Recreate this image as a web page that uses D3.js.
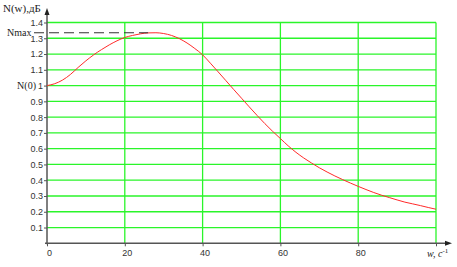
<!DOCTYPE html>
<html>
<head>
<meta charset="utf-8">
<script src="https://cdn.jsdelivr.net/npm/d3@7"></script>
<style>
    body { margin: 0; background: #fff; }
    .tick-label { font-family: "Liberation Sans", Arial, sans-serif; font-size: 9px; fill: #333; }
    .serif { font-family: "Liberation Serif", "Times New Roman", serif; fill: #222; }
</style>
</head>
<body>
<div id="container"></div>
<script>
// w, c^-1
const wValues = [0, 2, 4, 6, 8, 10, 12, 14, 16, 18, 20, 22, 24, 26, 28, 30, 32, 34, 36, 38, 40,
    42, 44, 46, 48, 50, 52, 54, 56, 58, 60, 62, 64, 66, 68, 70, 72, 74, 76, 78, 80,
    82, 84, 86, 88, 90, 92, 94, 96, 98, 100]
// N(w), dB
const nValues = [1.00, 1.012, 1.035, 1.07, 1.115, 1.157, 1.195, 1.228, 1.258, 1.284, 1.305, 1.318, 1.328, 1.334, 1.335, 1.33, 1.318, 1.298, 1.27, 1.235, 1.195,
    1.142, 1.087, 1.031, 0.975, 0.92, 0.865, 0.811, 0.759, 0.71, 0.664, 0.618, 0.577, 0.541, 0.509, 0.479, 0.452, 0.427, 0.404, 0.382, 0.361,
    0.341, 0.322, 0.305, 0.29, 0.275, 0.261, 0.25, 0.239, 0.227, 0.216]
const xTicks = [0, 20, 40, 60, 80, 100]
const xLabels = [0, 20, 40, 60, 80]
const yTicks = [0.1, 0.2, 0.3, 0.4, 0.5, 0.6, 0.7, 0.8, 0.9, 1, 1.1, 1.2, 1.3, 1.4]
const nMax = 1.335
const wMax = 26

const width = 457
const height = 267

const x = d3.scaleLinear().domain([0, 100]).range([47, 436])
const y = d3.scaleLinear().domain([0, 1.4]).range([243.3, 22.5])

const svg = d3.select('#container')
    .append('svg')
    .attr('width', width)
    .attr('height', height)

/********************* Grid ************************/

svg.append('g')
    .selectAll('line')
    .data(yTicks).enter()
    .append('line')
    .attr('x1', x(0)).attr('x2', x(100))
    .attr('y1', d => y(d)).attr('y2', d => y(d))
    .attr('stroke', '#2af52a')
    .attr('stroke-width', 1.3)

svg.append('g')
    .selectAll('line')
    .data(xTicks.filter(d => d > 0)).enter()
    .append('line')
    .attr('x1', d => x(d)).attr('x2', d => x(d))
    .attr('y1', y(1.4)).attr('y2', y(0))
    .attr('stroke', '#2af52a')
    .attr('stroke-width', 1.3)

/********************* Axes ************************/

const yAxis = svg.append('g')
    .attr('transform', `translate(${x(0)},0)`)
    .call(d3.axisLeft(y).tickValues(yTicks).tickSize(3).tickPadding(1)
        .tickFormat(d => d === 1 ? '1' : d3.format('.1f')(d)))
yAxis.select('.domain').remove()
yAxis.selectAll('line').attr('stroke', '#555')
yAxis.selectAll('text').attr('class', 'tick-label').attr('font-family', null).attr('font-size', null)

const xAxis = svg.append('g')
    .attr('transform', `translate(0,${y(0)})`)
    .call(d3.axisBottom(x).tickValues(xTicks).tickSize(3).tickPadding(3)
        .tickFormat(d => xLabels.includes(d) ? d : ''))
xAxis.select('.domain').remove()
xAxis.selectAll('line').attr('stroke', '#555')
xAxis.selectAll('text').attr('class', 'tick-label').attr('font-family', null).attr('font-size', null)
    .attr('dx', 2)

// axis lines with arrows
svg.append('line')
    .attr('x1', x(0)).attr('x2', x(0))
    .attr('y1', y(0) + 1).attr('y2', 12)
    .attr('stroke', '#555').attr('stroke-width', 1.5)
svg.append('path')
    .attr('d', `M${x(0)},8 L${x(0) - 2.5},15 L${x(0) + 2.5},15 Z`)
    .attr('fill', '#222')

svg.append('line')
    .attr('x1', x(0) - 2).attr('x2', 448)
    .attr('y1', y(0)).attr('y2', y(0))
    .attr('stroke', '#555').attr('stroke-width', 1.5)
svg.append('path')
    .attr('d', `M452,${y(0)} L445,${y(0) - 2.5} L445,${y(0) + 2.5} Z`)
    .attr('fill', '#222')

/********************* Curve ************************/

const line = d3.line()
    .x((d, i) => x(wValues[i]))
    .y(d => y(d))
    .curve(d3.curveMonotoneX)

svg.append('path')
    .datum(nValues)
    .attr('d', line)
    .attr('fill', 'none')
    .attr('stroke', '#ff2a2a')
    .attr('stroke-width', 1)

// Nmax dashed marker
svg.append('line')
    .attr('x1', 34).attr('x2', x(wMax))
    .attr('y1', y(nMax)).attr('y2', y(nMax))
    .attr('stroke', '#333')
    .attr('stroke-width', 1)
    .attr('stroke-dasharray', '10,5')

/********************* Labels ************************/

svg.append('text').attr('class', 'serif')
    .attr('x', 3).attr('y', 12)
    .attr('font-size', 11)
    .text('N(w),дБ')

svg.append('text').attr('class', 'serif')
    .attr('x', 7).attr('y', y(nMax) + 3.5)
    .attr('font-size', 10)
    .text('Nmax')

svg.append('text').attr('class', 'serif')
    .attr('x', 36).attr('y', y(1) + 3.5)
    .attr('text-anchor', 'end')
    .attr('font-size', 10)
    .text('N(0)')

const wLabel = svg.append('text').attr('class', 'serif')
    .attr('x', 427).attr('y', 257)
    .attr('font-size', 10)
wLabel.append('tspan').attr('font-style', 'italic').text('w, c')
wLabel.append('tspan').attr('dy', -4).attr('font-size', 7).text('-1')
</script>
</body>
</html>
